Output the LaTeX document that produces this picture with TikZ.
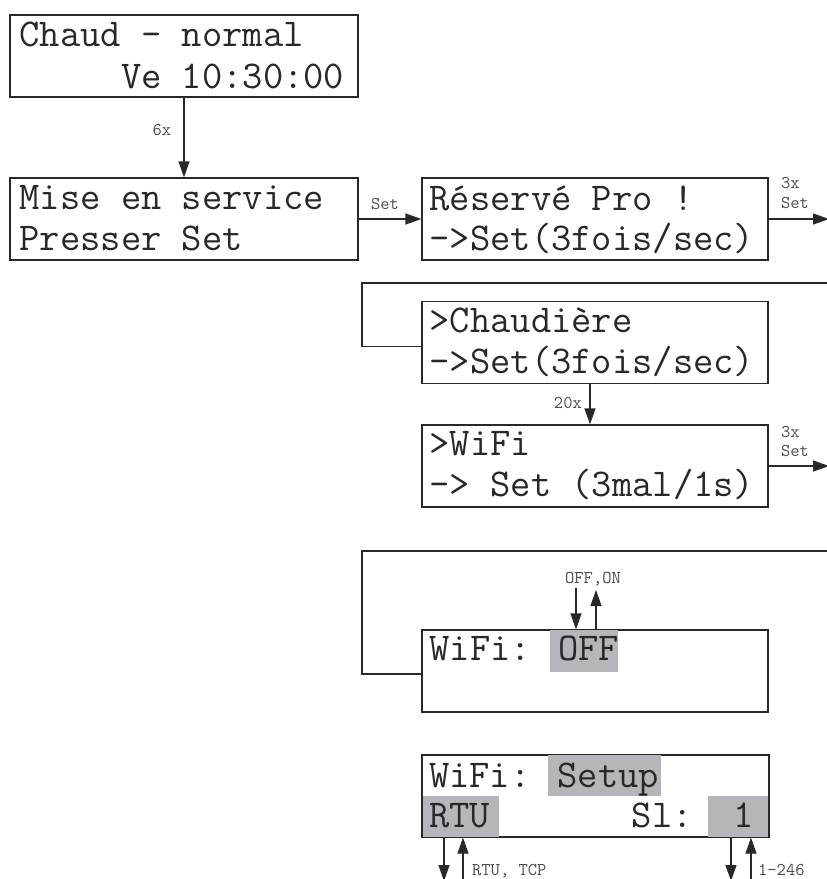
\documentclass[tikz,border=0pt]{standalone}
\usepackage{fontspec}
\usetikzlibrary{arrows.meta,calc}
\definecolor{ink}{RGB}{40,40,40}
\definecolor{lcdgray}{RGB}{180,182,185}
\tikzset{
  screen/.style={draw=ink, line width=1.3pt, minimum width=346pt, minimum height=82pt, inner sep=0pt},
  lcd/.style={anchor=base west, inner sep=0pt, text=ink, font=\ttfamily\fontsize{39.4}{44}\selectfont},
  hint/.style={inner sep=0pt, text=black!70, font=\ttfamily\fontsize{18}{20}\selectfont},
  flow/.style={draw=ink, line width=1.3pt, -{Triangle[length=16pt,width=11pt]}},
  wire/.style={draw=ink, line width=1.3pt},
}
\begin{document}
\begin{tikzpicture}[x=1pt, y=-1pt]
	\useasboundingbox (0,0) rectangle (827,879);
	% screens
	\node[screen, minimum width=348pt] (chaud) at (184,56) {};
	\node[screen, minimum width=348pt] (mise) at (184,219) {};
	\node[screen] (reserve) at (595,219) {};
	\node[screen] (chaudiere) at (595,342.5) {};
	\node[screen] (wifi) at (595,466) {};
	\node[screen] (wifionoff) at (595,671) {};
	\node[screen] (wifisetup) at (595.5,796) {};
	% highlighted fields
	\fill[lcdgray] (550,630) rectangle (618,672);
	\fill[lcdgray] (548,755) rectangle (661,796);
	\fill[lcdgray] (423,796) rectangle (499,837);
	\fill[lcdgray] (708,796) rectangle (768,837);
	\draw[draw=ink, line width=1.3pt] (wifionoff.north west) rectangle (wifionoff.south east);
	\draw[draw=ink, line width=1.3pt] (wifisetup.north west) rectangle (wifisetup.south east);
	% lines of text
	\node[lcd] (chaudA) at ($(chaud.north west)+(10,32)$) {Chaud - normal};
	\node[lcd] (chaudB) at ($(chaud.north west)+(10,74)$) {\hphantom{Chaud}Ve 10:30:00};
	\node[lcd] (miseA) at ($(mise.north west)+(10,32)$) {Mise en service};
	\node[lcd] (miseB) at ($(mise.north west)+(10,73)$) {Presser Set};
	\node[lcd] (reserveA) at ($(reserve.north west)+(8,33)$) {Réservé Pro !};
	\node[lcd] (reserveB) at ($(reserve.north west)+(8,73)$) {->Set(3fois/sec)};
	\node[lcd] (chaudiereA) at ($(chaudiere.north west)+(8,32)$) {>Chaudière};
	\node[lcd] (chaudiereB) at ($(chaudiere.north west)+(8,73)$) {->Set(3fois/sec)};
	\node[lcd] (wifiA) at ($(wifi.north west)+(8,31)$) {>WiFi};
	\node[lcd] (wifiB) at ($(wifi.north west)+(8,72)$) {-> Set (3mal/1s)};
	\node[lcd] (wifionoffA) at ($(wifionoff.north west)+(8,31)$) {WiFi: OFF};
	\node[lcd] (wifisetupA) at ($(wifisetup.north west)+(7,33)$) {WiFi: Setup};
	\node[lcd] (wifisetupB) at ($(wifisetup.north west)+(7,73)$) {RTU\hphantom{0000000}Sl:\hphantom{00}1};
	% connectors
	\draw[flow] (chaud) -- (mise);
	\node[hint, anchor=base] (six) at (162,135) {6x};
	\draw[flow] (mise) -- (reserve);
	\node[hint, anchor=base] (setA) at (385,209) {Set};
	\coordinate (outA) at (829,219);
	\draw[flow] (reserve) -- (outA);
	\node[hint, anchor=base west] (threeA) at (781,188) {3x};
	\node[hint, anchor=base west] (setB) at (781,208) {Set};
	\coordinate (backA) at (829,283);
	\coordinate (turnA) at (362,283);
	\draw[wire] (backA) -- (turnA) |- ($(chaudiere.west)+(0,4)$);
	\draw[flow] ($(chaudiere.south)+(-5,0)$) -- ($(wifi.north)+(-5,0)$);
	\node[hint, anchor=base east] (twenty) at (582,408) {20x};
	\coordinate (outB) at (829,466);
	\draw[flow] (wifi) -- (outB);
	\node[hint, anchor=base west] (threeB) at (781,437) {3x};
	\node[hint, anchor=base west] (setC) at (781,456) {Set};
	\coordinate (backB) at (829,551);
	\coordinate (turnB) at (362,551);
	\draw[wire] (backB) -- (turnB) |- ($(wifionoff.west)+(0,3)$);
	% OFF / ON
	\coordinate (offin) at (576,588);
	\coordinate (onout) at (596,590);
	\draw[flow] (offin) -- (offin |- wifionoff.north);
	\draw[flow] (onout |- wifionoff.north) -- (onout);
	\node[hint, anchor=base] (offon) at (593,583) {OFF,ON};
	% RTU / TCP and slave address
	\coordinate (rtuin) at (444,881);
	\coordinate (rtuout) at (463,881);
	\coordinate (slin) at (731,881);
	\coordinate (slout) at (751,881);
	\draw[flow] (rtuin |- wifisetup.south) -- (rtuin);
	\draw[flow] (rtuout) -- (rtuout |- wifisetup.south);
	\draw[flow] (slin |- wifisetup.south) -- (slin);
	\draw[flow] (slout) -- (slout |- wifisetup.south);
	\node[hint, anchor=base west] (rtutcp) at (472,875) {RTU, TCP};
	\node[hint, anchor=base west] (range) at (758,875) {1-246};
\end{tikzpicture}
\end{document}
